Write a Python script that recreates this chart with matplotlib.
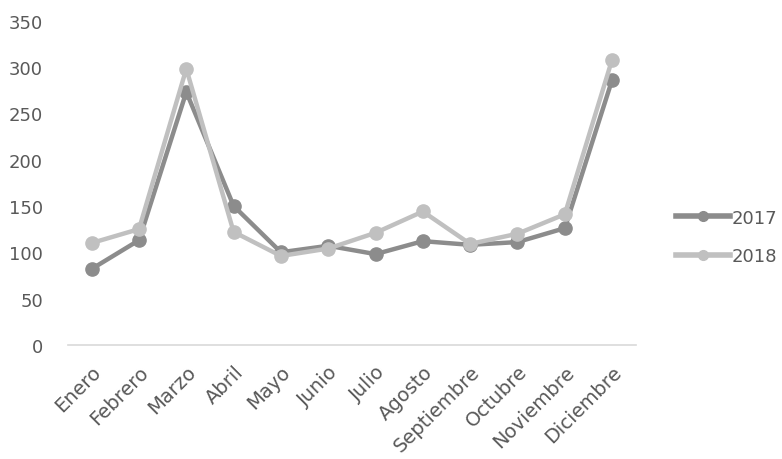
import matplotlib.pyplot as plt

months = ['Enero', 'Febrero', 'Marzo', 'Abril', 'Mayo', 'Junio', 'Julio',
          'Agosto', 'Septiembre', 'Octubre', 'Noviembre', 'Diciembre']
values_2017 = [82, 113, 273, 150, 100, 107, 98, 112, 108, 111, 126, 286]
values_2018 = [110, 125, 298, 122, 96, 104, 121, 144, 109, 120, 141, 308]
y_ticks = [0, 50, 100, 150, 200, 250, 300, 350]

plt.rcParams['font.family'] = ['DejaVu Sans']
text_color = '#595959'

fig = plt.figure(figsize=(7.82, 4.60), dpi=100)
ax = fig.add_axes([0.087, 0.248, 0.726, 0.705])

x = range(len(months))
ax.plot(x, values_2017, color='#8c8c8c', lw=3.2, marker='o', ms=9.5, label='2017', zorder=3)
ax.plot(x, values_2018, color='#c0c0c0', lw=3.2, marker='o', ms=9.5, label='2018', zorder=4)

ax.set_xlim(-0.5, len(months) - 0.5)
ax.set_ylim(0, 350)
ax.set_yticks(y_ticks)
ax.set_yticklabels([str(v) for v in y_ticks], fontsize=13, color=text_color)
ax.set_xticks(list(x))
ax.set_xticklabels(months, rotation=45, ha='right', rotation_mode='anchor',
                   fontsize=14, color=text_color)
ax.tick_params(axis='y', length=0, pad=18)
ax.tick_params(axis='x', length=0, pad=12)

for side in ['top', 'right', 'left']:
    ax.spines[side].set_visible(False)
ax.spines['bottom'].set_color('#d9d9d9')
ax.spines['bottom'].set_linewidth(1.2)

leg = fig.legend(loc='center left', bbox_to_anchor=(676 / 782, 1 - 238 / 460),
                 frameon=False, fontsize=13, handlelength=3.0, labelspacing=1.15,
                 handletextpad=0.1, borderpad=0, borderaxespad=0)
for t in leg.get_texts():
    t.set_color(text_color)
for h in leg.legend_handles:
    h.set_markersize(7)
    h.set_linewidth(4)

fig.savefig('out.png', dpi=100)
